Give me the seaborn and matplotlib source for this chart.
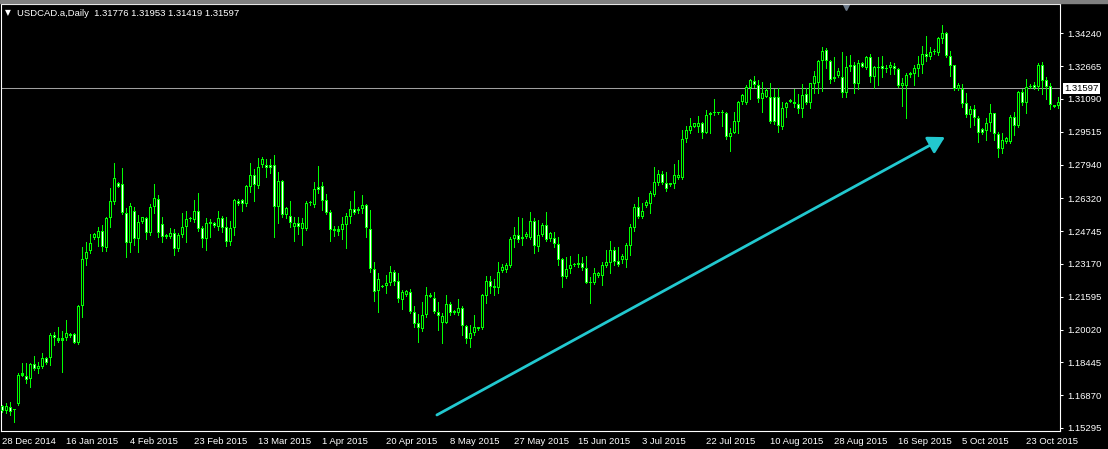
import matplotlib
matplotlib.use("Agg")
import matplotlib.pyplot as plt
import matplotlib.transforms as mtransforms
from matplotlib.patches import Rectangle
import numpy as np
import seaborn as sns

# Daily USDCAD candles, 28 Dec 2014 .. early Nov 2015
opens = [
    1.1635, 1.1613, 1.1632, 1.1614, 1.1645, 1.1781, 1.1781, 1.1763, 1.1835, 1.1813,
    1.1824, 1.1864, 1.1864, 1.1974, 1.1949, 1.1949, 1.1960, 1.1979, 1.1979, 1.1936,
    1.2115, 1.2339, 1.2381, 1.2442, 1.2442, 1.2475, 1.2392, 1.2536, 1.2616, 1.2704,
    1.2701, 1.2563, 1.2416, 1.2573, 1.2435, 1.2520, 1.2536, 1.2467, 1.2589, 1.2627,
    1.2509, 1.2445, 1.2445, 1.2464, 1.2387, 1.2456, 1.2496, 1.2531, 1.2528, 1.2571,
    1.2488, 1.2435, 1.2520, 1.2515, 1.2496, 1.2536, 1.2493, 1.2424, 1.2488, 1.2621,
    1.2624, 1.2605, 1.2688, 1.2744, 1.2693, 1.2792, 1.2792, 1.2792, 1.2792, 1.2589,
    1.2714, 1.2552, 1.2547, 1.2496, 1.2512, 1.2486, 1.2486, 1.2608, 1.2600, 1.2685,
    1.2691, 1.2624, 1.2566, 1.2477, 1.2483, 1.2480, 1.2504, 1.2544, 1.2579, 1.2573,
    1.2579, 1.2600, 1.2483, 1.2291, 1.2189, 1.2208, 1.2211, 1.2227, 1.2280, 1.2237,
    1.2144, 1.2168, 1.2184, 1.2088, 1.2032, 1.2003, 1.2072, 1.2160, 1.2152, 1.2088,
    1.2035, 1.2035, 1.2125, 1.2080, 1.2080, 1.2104, 1.2019, 1.1955, 1.1984, 1.2003,
    1.2008, 1.2163, 1.2235, 1.2200, 1.2200, 1.2285, 1.2288, 1.2307, 1.2435, 1.2454,
    1.2435, 1.2445, 1.2440, 1.2523, 1.2400, 1.2456, 1.2504, 1.2435, 1.2440, 1.2413,
    1.2339, 1.2253, 1.2291, 1.2312, 1.2312, 1.2323, 1.2296, 1.2232, 1.2224, 1.2259,
    1.2259, 1.2307, 1.2323, 1.2384, 1.2331, 1.2336, 1.2336, 1.2403, 1.2488, 1.2589,
    1.2541, 1.2595, 1.2605, 1.2648, 1.2704, 1.2749, 1.2707, 1.2696, 1.2701, 1.2728,
    1.2728, 1.2915, 1.2957, 1.2976, 1.2976, 1.2995, 1.2947, 1.3032, 1.3040, 1.3043,
    1.3040, 1.3040, 1.2925, 1.2947, 1.3000, 1.3096, 1.3088, 1.3160, 1.3197, 1.3176,
    1.3107, 1.3120, 1.3120, 1.3117, 1.3117, 1.2976, 1.3064, 1.3096, 1.3096, 1.3085,
    1.3059, 1.3133, 1.3088, 1.3181, 1.3184, 1.3293, 1.3344, 1.3293, 1.3203, 1.3219,
    1.3213, 1.3139, 1.3261, 1.3270, 1.3181, 1.3280, 1.3256, 1.3309, 1.3213, 1.3256,
    1.3267, 1.3251, 1.3256, 1.3267, 1.3251, 1.3171, 1.3171, 1.3224, 1.3229, 1.3251,
    1.3272, 1.3325, 1.3309, 1.3336, 1.3331, 1.3395, 1.3424, 1.3315, 1.3272, 1.3155,
    1.3155, 1.3088, 1.3032, 1.3059, 1.3016, 1.2963, 1.2957, 1.2995, 1.3040, 1.2941,
    1.2867, 1.2904, 1.2904, 1.3021, 1.2979, 1.3144, 1.3088, 1.3165, 1.3176, 1.3165,
    1.3272, 1.3200, 1.3171, 1.3072, 1.3075,
]
highs = [
    1.1640, 1.1648, 1.1654, 1.1619, 1.1792, 1.1840, 1.1840, 1.1840, 1.1875, 1.1848,
    1.1888, 1.1872, 1.1984, 1.1992, 1.2016, 1.1995, 1.2048, 1.1984, 1.1984, 1.2120,
    1.2397, 1.2424, 1.2461, 1.2464, 1.2496, 1.2504, 1.2544, 1.2680, 1.2800, 1.2712,
    1.2776, 1.2584, 1.2608, 1.2589, 1.2552, 1.2544, 1.2544, 1.2605, 1.2701, 1.2648,
    1.2544, 1.2461, 1.2488, 1.2483, 1.2467, 1.2560, 1.2573, 1.2541, 1.2624, 1.2656,
    1.2499, 1.2536, 1.2531, 1.2520, 1.2573, 1.2547, 1.2541, 1.2523, 1.2627, 1.2627,
    1.2627, 1.2696, 1.2800, 1.2771, 1.2824, 1.2829, 1.2819, 1.2819, 1.2840, 1.2760,
    1.2720, 1.2592, 1.2619, 1.2544, 1.2541, 1.2536, 1.2621, 1.2619, 1.2710, 1.2787,
    1.2712, 1.2653, 1.2576, 1.2499, 1.2499, 1.2544, 1.2560, 1.2619, 1.2669, 1.2589,
    1.2648, 1.2605, 1.2576, 1.2328, 1.2272, 1.2216, 1.2264, 1.2307, 1.2288, 1.2272,
    1.2192, 1.2192, 1.2195, 1.2115, 1.2077, 1.2136, 1.2205, 1.2176, 1.2184, 1.2136,
    1.2080, 1.2168, 1.2136, 1.2096, 1.2147, 1.2115, 1.2024, 1.2024, 1.2072, 1.2016,
    1.2173, 1.2259, 1.2259, 1.2243, 1.2328, 1.2317, 1.2320, 1.2445, 1.2493, 1.2541,
    1.2536, 1.2472, 1.2568, 1.2536, 1.2528, 1.2512, 1.2568, 1.2472, 1.2472, 1.2445,
    1.2344, 1.2352, 1.2355, 1.2320, 1.2365, 1.2349, 1.2355, 1.2256, 1.2296, 1.2280,
    1.2328, 1.2384, 1.2429, 1.2400, 1.2397, 1.2365, 1.2419, 1.2509, 1.2605, 1.2640,
    1.2608, 1.2624, 1.2669, 1.2784, 1.2768, 1.2765, 1.2760, 1.2707, 1.2797, 1.2816,
    1.2960, 1.2979, 1.3016, 1.2995, 1.3027, 1.3000, 1.3056, 1.3048, 1.3107, 1.3046,
    1.3056, 1.3046, 1.2968, 1.3048, 1.3101, 1.3133, 1.3176, 1.3203, 1.3219, 1.3200,
    1.3192, 1.3160, 1.3187, 1.3155, 1.3160, 1.3096, 1.3096, 1.3107, 1.3155, 1.3133,
    1.3181, 1.3160, 1.3187, 1.3245, 1.3296, 1.3360, 1.3352, 1.3296, 1.3309, 1.3256,
    1.3336, 1.3315, 1.3320, 1.3288, 1.3296, 1.3288, 1.3315, 1.3325, 1.3267, 1.3309,
    1.3315, 1.3272, 1.3288, 1.3280, 1.3256, 1.3208, 1.3232, 1.3240, 1.3272, 1.3315,
    1.3363, 1.3411, 1.3360, 1.3347, 1.3405, 1.3464, 1.3432, 1.3341, 1.3272, 1.3184,
    1.3181, 1.3139, 1.3075, 1.3080, 1.3027, 1.2968, 1.3016, 1.3085, 1.3043, 1.2952,
    1.2944, 1.2925, 1.3032, 1.3048, 1.3149, 1.3155, 1.3203, 1.3181, 1.3192, 1.3283,
    1.3288, 1.3213, 1.3184, 1.3082, 1.3120,
]
lows = [
    1.1608, 1.1603, 1.1592, 1.1560, 1.1640, 1.1779, 1.1744, 1.1728, 1.1808, 1.1795,
    1.1816, 1.1837, 1.1832, 1.1928, 1.1944, 1.1800, 1.1952, 1.1968, 1.1936, 1.1933,
    1.2064, 1.2312, 1.2368, 1.2438, 1.2403, 1.2381, 1.2381, 1.2496, 1.2605, 1.2685,
    1.2557, 1.2352, 1.2376, 1.2408, 1.2376, 1.2515, 1.2435, 1.2456, 1.2560, 1.2445,
    1.2424, 1.2442, 1.2440, 1.2360, 1.2381, 1.2445, 1.2424, 1.2525, 1.2520, 1.2477,
    1.2400, 1.2384, 1.2448, 1.2496, 1.2480, 1.2472, 1.2403, 1.2408, 1.2456, 1.2602,
    1.2573, 1.2595, 1.2664, 1.2621, 1.2680, 1.2784, 1.2736, 1.2752, 1.2448, 1.2512,
    1.2544, 1.2536, 1.2496, 1.2429, 1.2461, 1.2408, 1.2480, 1.2600, 1.2592, 1.2656,
    1.2576, 1.2557, 1.2429, 1.2451, 1.2456, 1.2435, 1.2392, 1.2512, 1.2557, 1.2563,
    1.2563, 1.2445, 1.2280, 1.2141, 1.2088, 1.2205, 1.2176, 1.2216, 1.2216, 1.2136,
    1.2099, 1.2165, 1.2080, 1.2016, 1.1944, 1.1997, 1.2064, 1.2157, 1.2080, 1.2000,
    1.1939, 1.2032, 1.2072, 1.2077, 1.2072, 1.1976, 1.1936, 1.1920, 1.1976, 1.2000,
    1.2003, 1.2131, 1.2179, 1.2168, 1.2176, 1.2280, 1.2280, 1.2304, 1.2397, 1.2424,
    1.2408, 1.2440, 1.2435, 1.2368, 1.2381, 1.2451, 1.2429, 1.2429, 1.2397, 1.2312,
    1.2205, 1.2248, 1.2275, 1.2309, 1.2304, 1.2288, 1.2224, 1.2128, 1.2221, 1.2256,
    1.2216, 1.2304, 1.2275, 1.2312, 1.2309, 1.2320, 1.2304, 1.2360, 1.2477, 1.2536,
    1.2536, 1.2589, 1.2560, 1.2643, 1.2696, 1.2701, 1.2669, 1.2693, 1.2680, 1.2723,
    1.2723, 1.2904, 1.2947, 1.2973, 1.2952, 1.2920, 1.2944, 1.2944, 1.3032, 1.3037,
    1.2979, 1.2915, 1.2861, 1.2944, 1.2947, 1.3085, 1.3085, 1.3107, 1.3165, 1.3096,
    1.3048, 1.3117, 1.2992, 1.2989, 1.2952, 1.2963, 1.3021, 1.3093, 1.3069, 1.3043,
    1.3024, 1.3085, 1.3064, 1.3139, 1.3139, 1.3149, 1.3256, 1.3187, 1.3197, 1.3213,
    1.3120, 1.3120, 1.3245, 1.3139, 1.3155, 1.3261, 1.3251, 1.3192, 1.3160, 1.3176,
    1.3216, 1.3240, 1.3229, 1.3229, 1.3165, 1.3075, 1.3016, 1.3216, 1.3176, 1.3219,
    1.3235, 1.3293, 1.3299, 1.3325, 1.3320, 1.3379, 1.3312, 1.3219, 1.3152, 1.3152,
    1.3069, 1.3024, 1.2973, 1.2984, 1.2904, 1.2941, 1.2912, 1.2957, 1.2912, 1.2832,
    1.2851, 1.2899, 1.2899, 1.2936, 1.2973, 1.3080, 1.3043, 1.3162, 1.3155, 1.3152,
    1.3133, 1.3107, 1.3059, 1.3069, 1.3064,
]
closes = [
    1.1613, 1.1635, 1.1608, 1.1618, 1.1784, 1.1792, 1.1760, 1.1837, 1.1813, 1.1827,
    1.1864, 1.1843, 1.1976, 1.1960, 1.1960, 1.1960, 1.1984, 1.1971, 1.1939, 1.2115,
    1.2339, 1.2376, 1.2419, 1.2459, 1.2475, 1.2400, 1.2536, 1.2619, 1.2728, 1.2688,
    1.2563, 1.2416, 1.2595, 1.2435, 1.2520, 1.2541, 1.2467, 1.2589, 1.2632, 1.2467,
    1.2445, 1.2456, 1.2464, 1.2387, 1.2456, 1.2496, 1.2531, 1.2536, 1.2573, 1.2483,
    1.2435, 1.2515, 1.2509, 1.2499, 1.2536, 1.2491, 1.2424, 1.2488, 1.2624, 1.2605,
    1.2605, 1.2691, 1.2744, 1.2696, 1.2781, 1.2819, 1.2776, 1.2776, 1.2589, 1.2714,
    1.2552, 1.2584, 1.2515, 1.2515, 1.2496, 1.2512, 1.2608, 1.2616, 1.2675, 1.2672,
    1.2621, 1.2560, 1.2480, 1.2483, 1.2472, 1.2509, 1.2547, 1.2579, 1.2560, 1.2579,
    1.2600, 1.2488, 1.2291, 1.2184, 1.2243, 1.2211, 1.2227, 1.2280, 1.2232, 1.2147,
    1.2184, 1.2189, 1.2088, 1.2029, 1.2008, 1.2072, 1.2168, 1.2168, 1.2088, 1.2067,
    1.2067, 1.2125, 1.2080, 1.2093, 1.2104, 1.2019, 1.1955, 1.1987, 1.2016, 1.2013,
    1.2168, 1.2235, 1.2208, 1.2211, 1.2280, 1.2301, 1.2312, 1.2435, 1.2454, 1.2432,
    1.2448, 1.2461, 1.2523, 1.2403, 1.2456, 1.2504, 1.2432, 1.2464, 1.2413, 1.2336,
    1.2253, 1.2291, 1.2312, 1.2317, 1.2323, 1.2296, 1.2227, 1.2224, 1.2272, 1.2275,
    1.2312, 1.2328, 1.2384, 1.2328, 1.2312, 1.2355, 1.2408, 1.2493, 1.2589, 1.2541,
    1.2573, 1.2616, 1.2656, 1.2712, 1.2749, 1.2707, 1.2675, 1.2704, 1.2744, 1.2744,
    1.2915, 1.2960, 1.2979, 1.2992, 1.2995, 1.2947, 1.3032, 1.3043, 1.3043, 1.3040,
    1.3043, 1.2925, 1.2947, 1.3005, 1.3096, 1.3128, 1.3165, 1.3200, 1.3176, 1.3107,
    1.3136, 1.3152, 1.3000, 1.3000, 1.2979, 1.3064, 1.3091, 1.3104, 1.3085, 1.3059,
    1.3128, 1.3088, 1.3184, 1.3219, 1.3293, 1.3341, 1.3293, 1.3200, 1.3213, 1.3245,
    1.3139, 1.3261, 1.3270, 1.3181, 1.3280, 1.3264, 1.3309, 1.3213, 1.3261, 1.3261,
    1.3254, 1.3259, 1.3272, 1.3251, 1.3171, 1.3184, 1.3224, 1.3235, 1.3256, 1.3275,
    1.3325, 1.3309, 1.3336, 1.3341, 1.3400, 1.3424, 1.3315, 1.3267, 1.3155, 1.3176,
    1.3085, 1.3032, 1.3059, 1.3016, 1.2944, 1.2947, 1.2995, 1.3040, 1.2941, 1.2867,
    1.2912, 1.2920, 1.3021, 1.2979, 1.3144, 1.3088, 1.3165, 1.3171, 1.3160, 1.3272,
    1.3197, 1.3168, 1.3080, 1.3078, 1.3096,
]

date_labels = [
    "28 Dec 2014", "16 Jan 2015", "4 Feb 2015", "23 Feb 2015", "13 Mar 2015",
    "1 Apr 2015", "20 Apr 2015", "8 May 2015", "27 May 2015", "15 Jun 2015",
    "3 Jul 2015", "22 Jul 2015", "10 Aug 2015", "28 Aug 2015", "16 Sep 2015",
    "5 Oct 2015", "23 Oct 2015",
]
price_ticks = [1.34240, 1.32665, 1.31090, 1.29515, 1.27940, 1.26320, 1.24745,
               1.23170, 1.21595, 1.20020, 1.18445, 1.16870, 1.15295]

symbol = "USDCAD.a,Daily"
last_bar = [1.31776, 1.31953, 1.31419, 1.31597]
bid = 1.31597
# trend arrow drawn on the chart (bar index, price)
arrow_from = (108.6, 1.1592)
arrow_to = (235.6, 1.2926)

GREEN = "#00FF00"
FONT = 6.8
Y_LO, Y_HI = 1.1515, 1.3565
AX_H_PX = 427
PX = (Y_HI - Y_LO) / AX_H_PX  # price per pixel

sns.set_theme(style="dark", rc={
    "axes.facecolor": "black",
    "figure.facecolor": "black",
    "axes.edgecolor": "white",
    "axes.grid": False,
    "text.color": "white",
    "xtick.color": "white",
    "ytick.color": "white",
})
plt.rcParams["font.family"] = ["Liberation Sans", "DejaVu Sans"]

fig = plt.figure(figsize=(11.08, 4.49), dpi=100, facecolor="black")
ax = fig.add_axes([1 / 1108, 18 / 449, 1059 / 1108, AX_H_PX / 449])
ax.set_facecolor("black")

o = np.array(opens)
h = np.array(highs)
l = np.array(lows)
c = np.array(closes)
x = np.arange(len(c))
up = c >= o

# wicks (nudged a hair left so the 1px line snaps to the body's middle column)
ax.vlines(x - 0.03, l, h, color=GREEN, linewidth=0.72, antialiased=False, zorder=2)
# body outline: solid green block 3 px wide
body_lo = np.minimum(o, c)
body_h = np.maximum(np.abs(c - o), PX)
ax.bar(x, body_h, bottom=body_lo, width=0.75, color=GREEN,
       linewidth=0, antialiased=False, zorder=3)
# body inside: 1 px column, black for bull, white for bear
inner = body_h > 2.5 * PX
ax.bar(x[inner], body_h[inner] - 2 * PX, bottom=body_lo[inner] + PX, width=0.25,
       color=["black" if u else "white" for u in up[inner]],
       linewidth=0, antialiased=False, zorder=4)

# bid line
ax.axhline(bid, color="#A0A0A0", linewidth=0.75, zorder=1)

# trend arrow
ax.annotate("", xy=arrow_to, xytext=arrow_from,
            arrowprops=dict(arrowstyle="-|>,head_length=0.7,head_width=0.4",
                            color="#22C8CF", lw=2.0, mutation_scale=14,
                            shrinkA=0, shrinkB=0), zorder=5)

ax.set_xlim(-0.375, 264.375)
ax.set_ylim(Y_LO, Y_HI)

for sp in ax.spines.values():
    sp.set_color("white")
    sp.set_linewidth(0.8)

ax.yaxis.tick_right()
ax.set_yticks(price_ticks)
ax.set_yticklabels([f"{v:.5f}" for v in price_ticks])
ax.tick_params(axis="y", colors="white", labelsize=FONT, length=2.5, width=0.75, pad=3)

ax.set_xticks(np.arange(0, len(c), 16)[:len(date_labels)])
ax.set_xticklabels(date_labels, ha="left")
ax.tick_params(axis="x", colors="white", labelsize=FONT, length=2.5, width=0.75, pad=1.5)

# bid label box on price scale
trans = mtransforms.blended_transform_factory(ax.transAxes, ax.transData)
ax.text(1.0038, bid, f"{bid:.5f}", transform=trans, ha="left", va="center",
        color="black", fontsize=FONT, clip_on=False,
        bbox=dict(boxstyle="square,pad=0.15", fc="white", ec="none"))

# chart shift marker at the top
trans2 = mtransforms.blended_transform_factory(ax.transData, ax.transAxes)
ax.plot([210.75], [0.992], marker="v", markersize=5, color="#6E7B8B",
        transform=trans2, clip_on=False)

# header
fig.text(5 / 1108, 1 - 13 / 449, "\u25bc", family="DejaVu Sans", fontsize=5.5,
         color="white", va="center")
fig.text(17 / 1108, 1 - 13 / 449,
         f"{symbol}  " + " ".join(f"{v:.5f}" for v in last_bar),
         fontsize=FONT, color="white", va="center")

# window border strip at the top
fig.patches.append(Rectangle((0, 1 - 3 / 449), 1, 3 / 449, transform=fig.transFigure,
                             color="#808080", zorder=0))

fig.savefig("out.png", dpi=100, facecolor="black")
